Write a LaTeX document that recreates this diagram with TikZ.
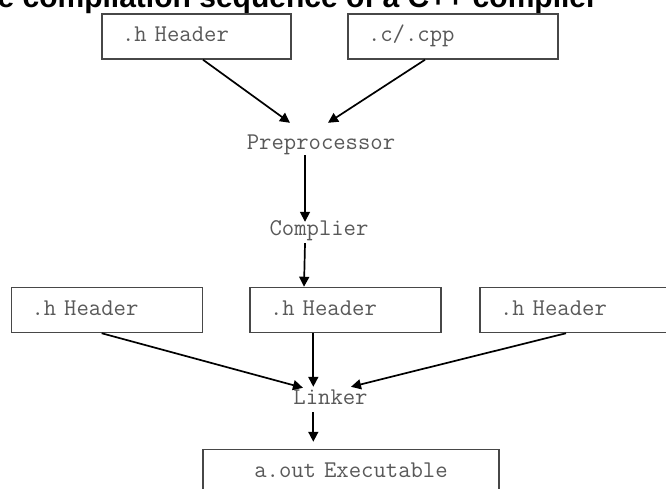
\documentclass[tikz,border=0pt]{standalone}
\usepackage{fontspec}
\usetikzlibrary{arrows.meta}
\newfontfamily\headfont{Liberation Sans}

% serif typewriter labels, one character cell = 12.6pt
\newcommand{\labelfont}{\ttfamily\fontsize{24}{26}\selectfont}

\tikzset{
  filebox/.style={draw=black!72, line width=1.5pt, fill=white,
    font=\labelfont, text=black!65,
    minimum height=45pt, inner xsep=20pt, inner ysep=0pt, align=left,
    text height=14pt, text depth=4pt},
  stage/.style={font=\labelfont, text=black!65,
    inner sep=0pt, text height=14pt, text depth=4pt},
  flow/.style={draw=black, line width=1.7pt,
    -{Triangle[length=10pt,width=10pt]}},
}

\begin{document}
\begin{tikzpicture}[x=1pt,y=-1pt]
\useasboundingbox (0,0) rectangle (666,489);
\clip (0,0) rectangle (666,489);

% heading
\node[anchor=base east, inner sep=0pt,
      font=\headfont\bfseries\fontsize{30}{32}\selectfont]
  (title) at (598,8) {The compilation sequence of a C++ compiler};

% sources
\node[filebox, text width=149pt] (h1) at (196.5,36.5) {.h Header};
\node[filebox, text width=170pt] (src) at (453,36.5) {.c/.cpp};

% stages
\node[stage] (pre) at (321,145) {Preprocessor};
\node[stage] (comp) at (319,230) {Complier};

% headers feeding the linker
\node[filebox, text width=151pt] (hl) at (107,310) {.h Header};
\node[filebox, text width=151pt] (hm) at (345.5,310) {.h Header};
\node[filebox, text width=160pt] (hr) at (580,310) {.h Header};

\node[stage] (link) at (330.5,399) {Linker};

\node[filebox, text width=256pt, align=center] (exe) at (351,472) {a.out Executable};

% connectors
\draw[flow] ([xshift=6.5pt]h1.south) -- ([xshift=-31pt,yshift=13pt]pre.north);
\draw[flow] ([xshift=-28pt]src.south) -- ([xshift=7pt,yshift=13pt]pre.north);
\draw[flow] ([xshift=-16pt,yshift=-1pt]pre.south) -- ([xshift=-14pt,yshift=-1pt]comp.north);
\draw[flow] ([xshift=-14pt,yshift=-4pt]comp.south) -- ([xshift=-41.5pt]hm.north);
\draw[flow] ([xshift=-5.3pt]hl.south) -- ([xshift=-27.5pt,yshift=2pt]link.north);
\draw[flow] ([xshift=-32.2pt]hm.south) -- ([xshift=-17.2pt,yshift=3pt]link.north);
\draw[flow] ([xshift=-14pt]hr.south) -- ([xshift=20.5pt,yshift=3pt]link.north);
\draw[flow] ([xshift=-17.2pt,yshift=-4pt]link.south) -- ([xshift=-37.7pt,yshift=7pt]exe.north);
\end{tikzpicture}
\end{document}
